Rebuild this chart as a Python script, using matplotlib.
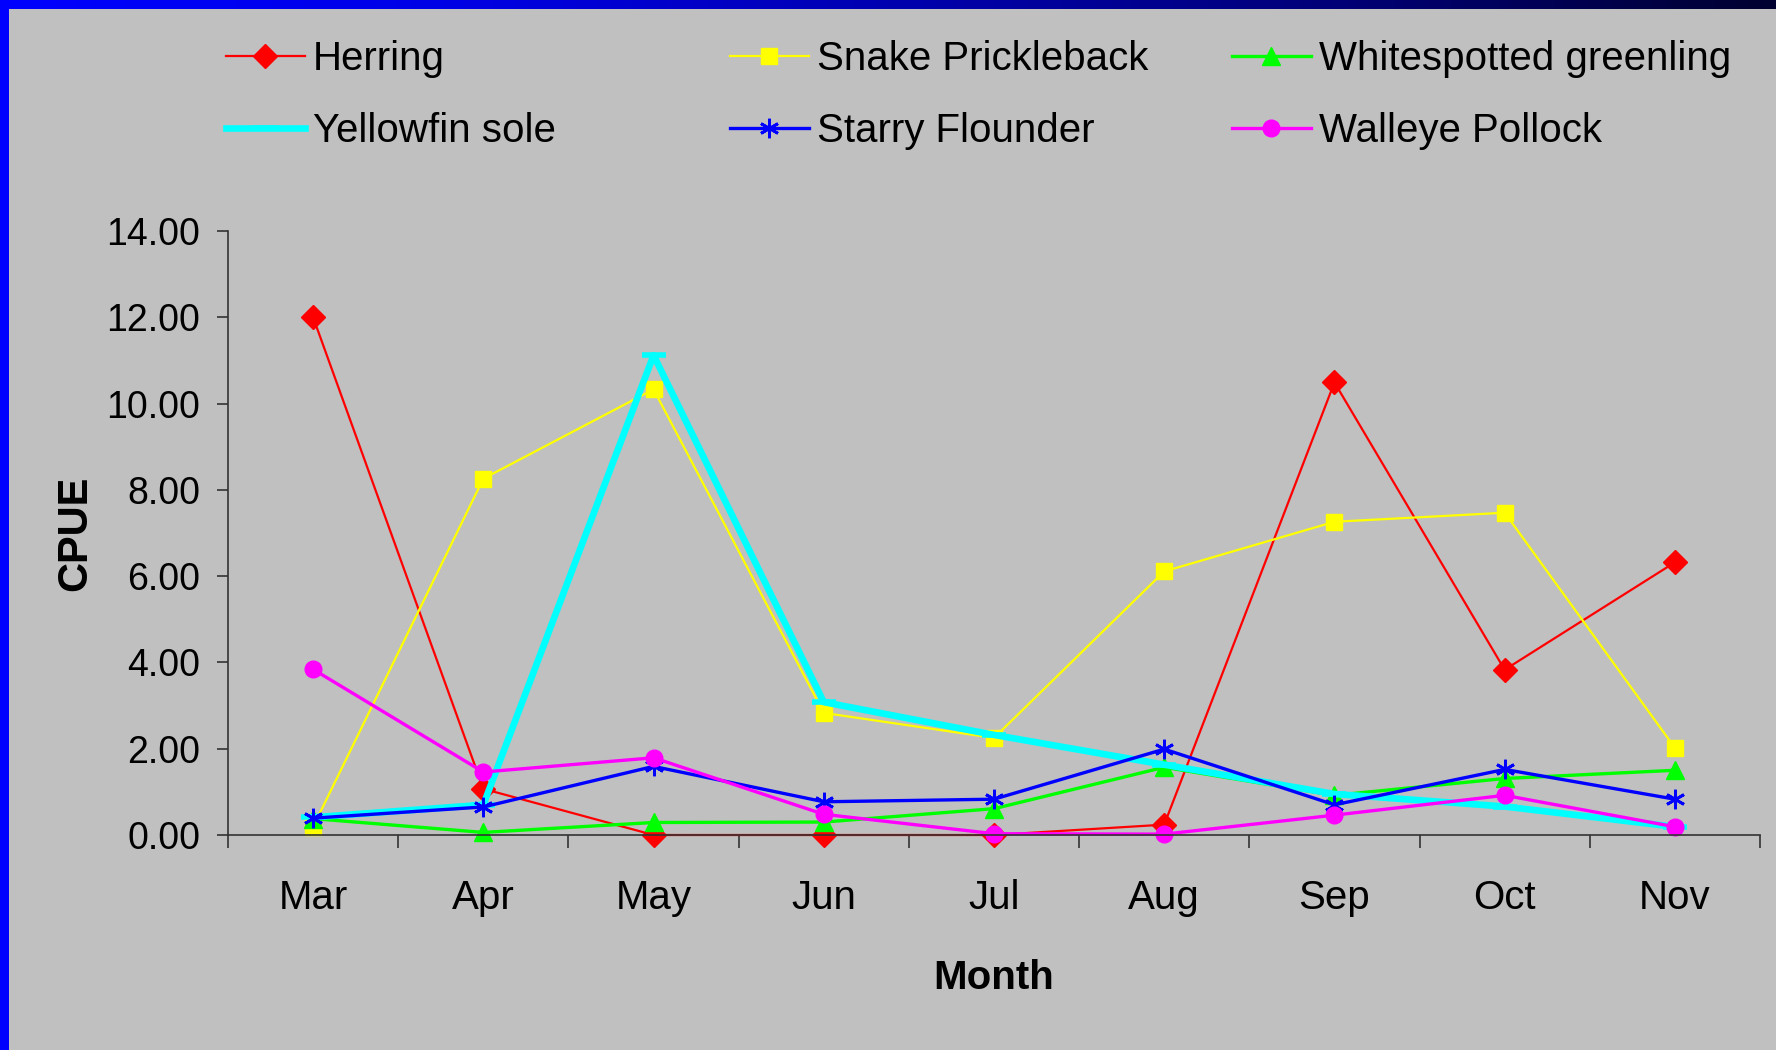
import matplotlib.pyplot as plt
import numpy as np
from matplotlib.colors import LinearSegmentedColormap

plt.rcParams['font.family'] = ['Liberation Sans', 'DejaVu Sans']

months = ['Mar', 'Apr', 'May', 'Jun', 'Jul', 'Aug', 'Sep', 'Oct', 'Nov']

herring = [12.00, 1.07, 0.00, 0.00, 0.00, 0.24, 10.49, 3.83, 6.32]
snake_prickleback = [0.19, 8.26, 10.33, 2.83, 2.25, 6.11, 7.26, 7.47, 2.02]
whitespotted_greenling = [0.38, 0.06, 0.29, 0.30, 0.61, 1.57, 0.92, 1.31, 1.50]
yellowfin_sole = [0.41, 0.70, 11.12, 3.08, 2.32, 1.63, 0.95, 0.66, 0.19]
starry_flounder = [0.39, 0.65, 1.59, 0.77, 0.83, 1.99, 0.70, 1.52, 0.83]
walleye_pollock = [3.84, 1.46, 1.79, 0.48, 0.03, 0.02, 0.46, 0.92, 0.19]

bg = '#C0C0C0'
fig = plt.figure(figsize=[17.76, 10.5], dpi=100, facecolor=bg)

# slide frame: blue strip on the left, gradient bar on top
left_bar = fig.add_axes([0, 0, 9 / 1776, 1])
left_bar.set_axis_off()
left_bar.add_patch(plt.Rectangle((0, 0), 1, 1, color='#0000FF', transform=left_bar.transAxes))

top_bar = fig.add_axes([0, 1 - 9 / 1050, 1, 9 / 1050])
grad = np.linspace(0, 1, 256).reshape(1, -1)
cmap = LinearSegmentedColormap.from_list('slide', ['#0000FF', '#0000E6', '#0000B0', '#000078', '#000030'])
top_bar.imshow(grad, aspect='auto', cmap=cmap, extent=[0, 1, 0, 1])
top_bar.set_axis_off()

ax = fig.add_axes([228 / 1776, 1 - 835 / 1050, (1760 - 228) / 1776, (835 - 231) / 1050])
ax.set_facecolor(bg)

x = np.arange(len(months))

series = [
    ('Herring', herring, dict(color='#FF0000', lw=1.6, marker='D', ms=12)),
    ('Snake Prickleback', snake_prickleback, dict(color='#FFFF00', lw=1.6, marker='s', ms=12)),
    ('Whitespotted greenling', whitespotted_greenling, dict(color='#00FF00', lw=2.4, marker='^', ms=13)),
    ('Yellowfin sole', yellowfin_sole, dict(color='#00FFFF', lw=4.8, marker='_', ms=17, mew=4)),
    ('Starry Flounder', starry_flounder, dict(color='#0000FF', lw=2.4, marker=(6, 2, 0), ms=14, mew=2)),
    ('Walleye Pollock', walleye_pollock, dict(color='#FF00FF', lw=2.4, marker='o', ms=12)),
]

handles = []
for name, vals, style in series:
    h, = ax.plot(x, vals, label=name, clip_on=False, **style)
    handles.append(h)

ax.set_xlim(-0.5, len(months) - 0.5)
ax.set_ylim(0, 14)
ax.set_yticks(np.arange(0, 15, 2))
ax.set_yticklabels([f'{v:.2f}' for v in np.arange(0, 15, 2)])

ax.set_xticks(np.arange(-0.5, len(months)), labels=[])
ax.set_xticks(x, labels=months, minor=True)
ax.tick_params(axis='x', which='major', direction='out', length=9, width=1.2, color='#333333')
ax.tick_params(axis='x', which='minor', length=0, pad=32, labelsize=29)
ax.tick_params(axis='y', direction='out', length=8, width=1.2, color='#333333', pad=12, labelsize=27)

for side in ['top', 'right']:
    ax.spines[side].set_visible(False)
for side in ['left', 'bottom']:
    ax.spines[side].set_color('#333333')
    ax.spines[side].set_linewidth(1.2)

ax.set_xlabel('Month', fontsize=29, fontweight='bold', labelpad=30)
ax.set_ylabel('CPUE', fontsize=30, fontweight='bold', labelpad=8)

# legend in three columns, two rows each
col_x = [226, 730, 1232]
for i, cx in enumerate(col_x):
    leg = fig.legend(handles=[handles[i], handles[i + 3]], loc='upper left',
                     bbox_to_anchor=(cx / 1776, 1 - 40 / 1050), frameon=False,
                     fontsize=29, handlelength=1.95, handletextpad=0.2,
                     labelspacing=0.85, borderpad=0, borderaxespad=0, numpoints=1)

fig.savefig('out.png', dpi=100, facecolor=bg)
